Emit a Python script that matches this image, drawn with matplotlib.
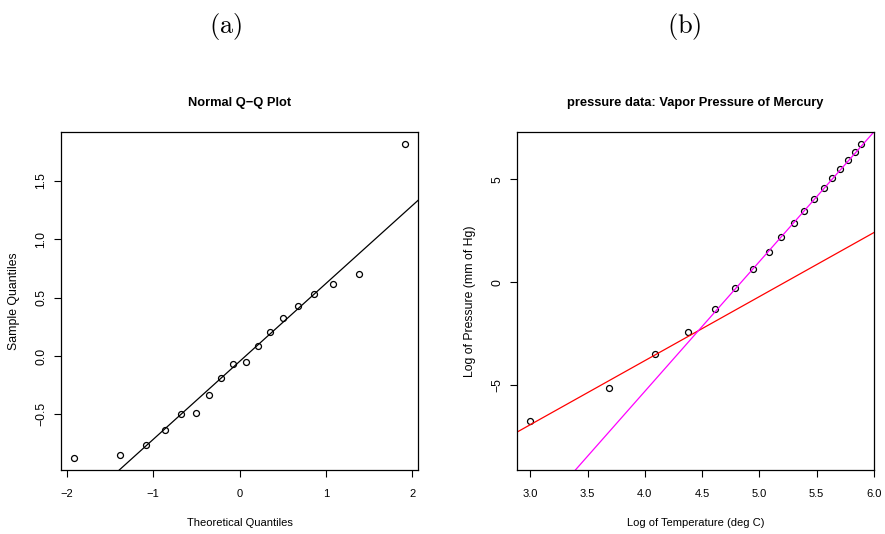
import numpy as np
import matplotlib
matplotlib.use("Agg")
import matplotlib.pyplot as plt

plt.rcParams['font.family'] = ['Liberation Sans', 'DejaVu Sans']
plt.rcParams['mathtext.fontset'] = 'cm'

# --- panel (a): normal Q-Q plot, 18 points ---
theo_q = [-1.915, -1.383, -1.085, -0.862, -0.674, -0.508, -0.355, -0.210, -0.070,
          0.070, 0.210, 0.355, 0.508, 0.674, 0.862, 1.085, 1.383, 1.915]
sample_q = [-0.869, -0.846, -0.760, -0.634, -0.497, -0.486, -0.337, -0.189, -0.069,
            -0.051, 0.086, 0.206, 0.326, 0.431, 0.529, 0.620, 0.700, 1.811]
qq_intercept = -0.047
qq_slope = 0.667

# --- panel (b): pressure data, log-log ---
log_temp = [3.00, 3.69, 4.09, 4.38, 4.61, 4.79, 4.94, 5.08, 5.19, 5.30,
            5.39, 5.48, 5.56, 5.63, 5.70, 5.77, 5.83, 5.89]
log_press = [-6.73, -5.12, -3.51, -2.41, -1.31, -0.29, 0.62, 1.44, 2.17, 2.85,
             3.47, 4.04, 4.56, 5.06, 5.51, 5.93, 6.32, 6.69]
red_fit = (-16.25, 3.11)      # intercept, slope (fit to low-temperature points)
magenta_fit = (-30.5, 6.30)   # intercept, slope (fit to high-temperature points)

W, H = 885, 534
fig = plt.figure(figsize=(W / 100, H / 100), dpi=100)


def rect(l, r, t, b):
    return [l / W, 1 - b / H, (r - l) / W, (b - t) / H]


def r_style(ax):
    # mimic base R graphics look
    for s in ax.spines.values():
        s.set_linewidth(0.9)
    ax.tick_params(direction='out', length=5, width=0.8, labelsize=8)
    ax.tick_params(axis='x', pad=9)
    ax.tick_params(axis='y', labelrotation=90, labelsize=8.8, pad=5)
    for lab in ax.get_yticklabels():
        lab.set_va('center')


def abline(ax, a, b, **kw):
    x0, x1 = ax.get_xlim()
    xs = np.array([x0, x1])
    ax.plot(xs, a + b * xs, **kw)
    ax.set_xlim(x0, x1)


# panel (a)
ax1 = fig.add_axes(rect(61, 418, 132, 470))
ax1.plot(theo_q, sample_q, 'o', mfc='none', mec='black', ms=4.3, mew=0.9)
ax1.set_xlim(-2.068, 2.068)
ax1.set_ylim(-0.976, 1.918)
ax1.set_xticks([-2, -1, 0, 1, 2])
ax1.set_xticklabels(['\u22122', '\u22121', '0', '1', '2'])
ax1.set_yticks([-0.5, 0.0, 0.5, 1.0, 1.5])
ax1.set_yticklabels(['\u22120.5', '0.0', '0.5', '1.0', '1.5'])
abline(ax1, qq_intercept, qq_slope, color='black', lw=0.9)
ax1.set_title('Normal Q\u2212Q Plot', fontsize=9.3, fontweight='bold', pad=19)
ax1.set_xlabel('Theoretical Quantiles', fontsize=8, labelpad=13.5)
ax1.set_ylabel('Sample Quantiles', fontsize=8.8, labelpad=11)
r_style(ax1)

# panel (b)
ax2 = fig.add_axes(rect(517, 874, 132, 470))
ax2.plot(log_temp, log_press, 'o', mfc='none', mec='black', ms=4.3, mew=0.9)
ax2.set_xlim(2.884, 6.0)
ax2.set_ylim(-9.12, 7.29)
ax2.set_xticks([3.0, 3.5, 4.0, 4.5, 5.0, 5.5, 6.0])
ax2.set_yticks([-5, 0, 5])
ax2.set_yticklabels(['\u22125', '0', '5'])
abline(ax2, red_fit[0], red_fit[1], color='red', lw=0.9)
abline(ax2, magenta_fit[0], magenta_fit[1], color='magenta', lw=0.9)
ax2.set_title('pressure data: Vapor Pressure of Mercury', fontsize=9.3,
              fontweight='bold', pad=19)
ax2.set_xlabel('Log of Temperature (deg C)', fontsize=8, labelpad=13.5)
ax2.set_ylabel('Log of Pressure (mm of Hg)', fontsize=8.8, labelpad=11)
r_style(ax2)

fig.text(226 / W, 1 - 26 / H, r'$\mathrm{(a)}$', fontsize=19, ha='center', va='center')
fig.text(684 / W, 1 - 26 / H, r'$\mathrm{(b)}$', fontsize=19, ha='center', va='center')

fig.savefig('out.png', dpi=100)
